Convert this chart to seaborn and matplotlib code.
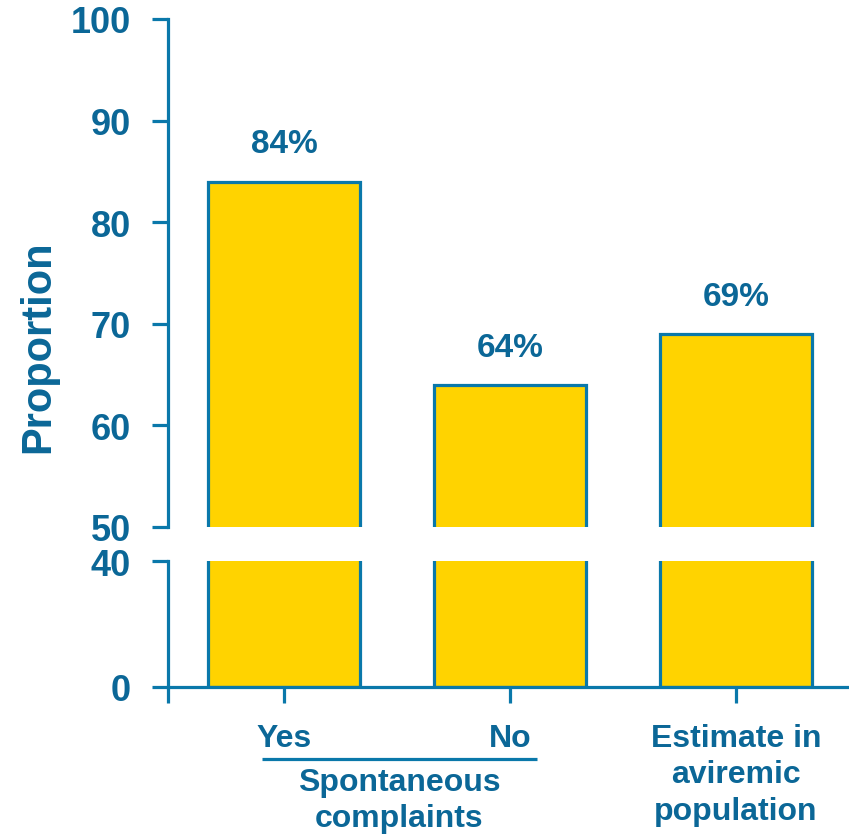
import matplotlib
matplotlib.use("Agg")
import matplotlib.pyplot as plt
import matplotlib.transforms as mtransforms
import seaborn as sns
import pandas as pd

categories = ["Yes", "No", "Estimate in\naviremic\npopulation"]
values = [84, 64, 69]
upper_ticks = [50, 60, 70, 80, 90, 100]
lower_ticks = [0, 40]
group_label = "Spontaneous\ncomplaints"

sns.set_theme(style="white")
plt.rcParams["font.family"] = ["Liberation Sans", "DejaVu Sans"]
plt.rcParams["font.weight"] = "bold"

AXIS = "#0A78AA"
TEXT = "#0B6797"
FILL = "#FFD300"
LW = 2.3

df = pd.DataFrame({"group": categories, "value": values})

fig = plt.figure(figsize=(8.49, 8.37), dpi=100)
W, H = 849, 837
left = 168 / W
ax_top = fig.add_axes([left, 1 - 528 / H, 1 - left, (528 - 20) / H])
ax_bot = fig.add_axes([left, 1 - 688 / H, 1 - left, (688 - 562) / H])

for ax in (ax_top, ax_bot):
    sns.barplot(data=df, x="group", y="value", order=categories, ax=ax,
                color=FILL, saturation=1, edgecolor=AXIS, linewidth=LW,
                width=0.67, zorder=2)
    ax.set_xlim(-0.513, 2.5)
    ax.set_xlabel("")
    ax.set_ylabel("")
    ax.set_facecolor("none")
    for s in ("top", "right"):
        ax.spines[s].set_visible(False)
    ax.spines["left"].set_color(AXIS)
    ax.spines["left"].set_linewidth(LW)
    ax.tick_params(axis="y", length=11.5, width=LW, color=AXIS, pad=15,
                   labelsize=26, labelcolor=TEXT, left=True)

# Upper panel: 50-100
ax_top.set_ylim(50, 100)
ax_top.set_yticks(upper_ticks)
ax_top.spines["bottom"].set_visible(False)
ax_top.set_xticks([])

# Lower panel: 0-40, carries the category axis
ax_bot.set_ylim(0, 40)
ax_bot.set_yticks(lower_ticks)
ax_bot.spines["bottom"].set_color(AXIS)
ax_bot.spines["bottom"].set_linewidth(LW)
ax_bot.set_xticks(range(len(categories)))
ax_bot.set_xticklabels(categories, linespacing=1.27)
ax_bot.set_xticks([-0.513], minor=True)
ax_bot.tick_params(axis="x", which="both", length=11.5, width=LW, color=AXIS,
                   pad=14.5, labelsize=23, labelcolor=TEXT, bottom=True)
for lab in ax_bot.get_xticklabels():
    lab.set_fontweight("bold")
for ax in (ax_top, ax_bot):
    for lab in ax.get_yticklabels():
        lab.set_fontweight("bold")

# Percentage labels above the bars
ax_top.bar_label(ax_top.containers[0], labels=[f"{v}%" for v in values],
                 padding=16, fontsize=24, color=TEXT, fontweight="bold")

# Bracket under the two spontaneous-complaint bars
trans = mtransforms.blended_transform_factory(ax_bot.transData, fig.transFigure)
ax_bot.plot([-0.097, 1.12], [1 - 760 / H, 1 - 760 / H], transform=trans,
            color=AXIS, lw=LW, clip_on=False, solid_capstyle="butt")
ax_bot.text(0.51, 1 - 801 / H, group_label, transform=trans, ha="center",
            va="center", fontsize=23, color=TEXT, fontweight="bold",
            linespacing=1.22)

fig.text(38 / W, 1 - 347 / H, "Proportion", rotation=90, ha="center",
         va="center", fontsize=30, color=TEXT, fontweight="bold")

fig.savefig("out.png", dpi=100)
